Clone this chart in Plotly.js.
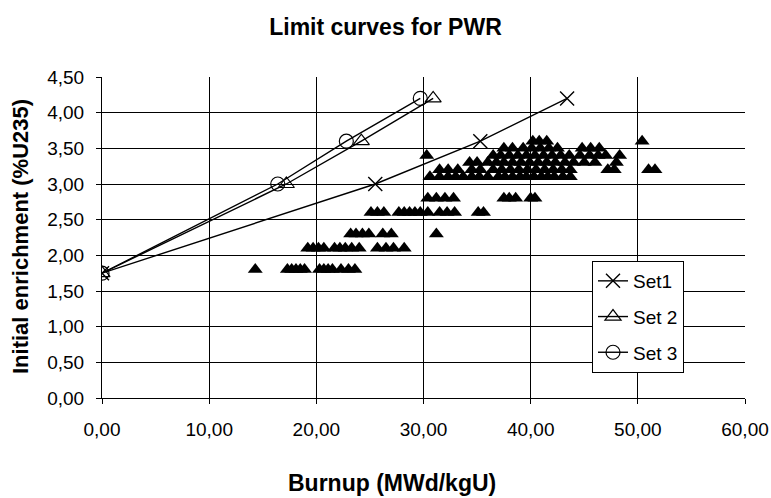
<!DOCTYPE html>
<html>
<head>
<meta charset="utf-8">
<script src="https://cdn.plot.ly/plotly-3.0.1.min.js"></script>
<style>html,body{margin:0;padding:0;background:#fff;}#chart{width:771px;height:498px;}</style>
</head>
<body>
<div id="chart"></div>
<script>
// Limit curves
const set1Burnup = [0, 25.5, 35.3, 43.4];
const set1Enrich = [1.75, 3.0, 3.6, 4.2];
const set2Burnup = [0, 17.2, 24.2, 30.9];
const set2Enrich = [1.75, 3.0, 3.6, 4.2];
const set3Burnup = [0, 16.4, 22.8, 29.7];
const set3Enrich = [1.75, 3.0, 3.6, 4.2];

// Fuel assemblies (filled triangles), grouped by enrichment level
const fuelBurnup180 = [14.3, 17.3, 17.7, 18.1, 18.5, 18.9, 20.3, 20.7, 21.1, 21.5, 22.3, 23.0, 23.6];
const fuelBurnup210 = [19.2, 19.7, 20.2, 20.7, 21.7, 22.2, 22.7, 23.3, 24.0, 25.7, 26.5, 27.2, 28.2];
const fuelBurnup230 = [23.2, 23.7, 24.3, 24.9, 26.2, 27.0, 31.2];
const fuelBurnup260 = [25.1, 25.7, 26.3, 27.7, 28.2, 28.7, 29.2, 29.7, 30.4, 31.5, 32.2, 32.9, 35.1, 35.6];
const fuelBurnup280 = [30.4, 31.2, 32.0, 32.8, 37.5, 38.0, 38.6, 40.0, 40.4];
const fuelBurnup310 = [30.6, 31.5, 32.3, 33.0, 33.7, 34.5, 35.2, 36.0, 37.0, 37.6, 38.3, 39.0, 39.6, 40.3, 41.0, 41.6, 42.2, 43.0, 43.7];
const fuelBurnup320 = [31.5, 32.3, 33.2, 34.5, 35.3, 36.5, 37.3, 38.1, 38.9, 39.7, 40.5, 41.3, 42.1, 42.9, 43.7, 47.2, 47.8, 51.0, 51.6];
const fuelBurnup330 = [34.3, 35.0, 36.0, 36.8, 37.5, 38.3, 39.1, 39.9, 40.7, 41.5, 42.3, 43.2, 44.0, 45.0, 46.0, 48.0];
const fuelBurnup340 = [30.3, 36.5, 37.2, 38.0, 38.8, 39.6, 40.4, 41.2, 42.0, 42.8, 43.6, 44.6, 45.5, 46.3, 47.0, 48.3];
const fuelBurnup350 = [37.5, 38.3, 39.3, 40.1, 40.9, 41.7, 42.5, 44.8, 45.6, 46.4];
const fuelBurnup360 = [40.2, 40.8, 41.5, 50.4];
const fuelLevels = [1.8, 2.1, 2.3, 2.6, 2.8, 3.1, 3.2, 3.3, 3.4, 3.5, 3.6];

const xTicks = [0, 10, 20, 30, 40, 50, 60];
const yTicks = [0, 0.5, 1, 1.5, 2, 2.5, 3, 3.5, 4, 4.5];

const groups = [fuelBurnup180, fuelBurnup210, fuelBurnup230, fuelBurnup260, fuelBurnup280,
  fuelBurnup310, fuelBurnup320, fuelBurnup330, fuelBurnup340, fuelBurnup350, fuelBurnup360];
const fuelX = [], fuelY = [];
groups.forEach((g, i) => g.forEach(b => { fuelX.push(b); fuelY.push(fuelLevels[i]); }));

const FONT = 'Liberation Sans, Arial, sans-serif';
const lineStyle = {color: '#000', width: 1.4};

const traces = [
  {x: fuelX, y: fuelY, mode: 'markers', type: 'scatter', showlegend: false, hoverinfo: 'x+y',
   marker: {symbol: 'triangle-up', size: 13, color: '#000'}},
  {x: set1Burnup, y: set1Enrich, mode: 'lines+markers', type: 'scatter', name: 'Set1', legendgroup: 'a',
   line: lineStyle, marker: {symbol: 'x-thin-open', size: 14, color: '#000', line: {color: '#000', width: 1.4}}},
  {x: set2Burnup, y: set2Enrich, mode: 'lines+markers', type: 'scatter', name: 'Set 2', legendgroup: 'b',
   line: lineStyle, marker: {symbol: 'triangle-up-open', size: 14, color: '#000', line: {color: '#000', width: 1.2}}},
  {x: set3Burnup, y: set3Enrich, mode: 'lines+markers', type: 'scatter', name: 'Set 3', legendgroup: 'c',
   line: lineStyle, marker: {symbol: 'circle-open', size: 14, color: '#000', line: {color: '#000', width: 1.2}}}
];

const layout = {
  width: 771, height: 498,
  margin: {l: 102, r: 26, t: 77, b: 100},
  paper_bgcolor: '#fff', plot_bgcolor: '#fff',
  separators: ', ',
  font: {family: FONT, size: 19, color: '#000'},
  title: {text: '<b>Limit curves for PWR</b>', font: {family: FONT, size: 23, color: '#000'},
          xref: 'container', x: 0.5, xanchor: 'center', yref: 'container', y: 1 - 27/498, yanchor: 'middle'},
  xaxis: {range: [0, 60], tickvals: xTicks, tickformat: '.2f', showgrid: true, gridcolor: '#000', gridwidth: 1,
          zeroline: false, showline: true, linecolor: '#000', linewidth: 1, mirror: false,
          ticks: 'outside', ticklen: 5, tickcolor: '#000', tickfont: {family: FONT, size: 19},
          ticklabelstandoff: 9, title: {text: ''}},
  yaxis: {range: [0, 4.5], tickvals: yTicks, tickformat: '.2f', showgrid: true, gridcolor: '#000', gridwidth: 1,
          zeroline: false, showline: true, linecolor: '#000', linewidth: 1,
          ticks: 'outside', ticklen: 5, tickcolor: '#000', tickfont: {family: FONT, size: 19},
          ticklabelstandoff: 8, title: {text: ''}},
  legend: {x: (592 - 102) / 643, y: (398 - 261) / 321, xanchor: 'left', yanchor: 'top', bgcolor: '#fff',
           bordercolor: '#000', borderwidth: 1, font: {family: FONT, size: 19}, tracegroupgap: 8, itemwidth: 30},
  annotations: [
    {text: '<b>Burnup (MWd/kgU)</b>', xref: 'paper', yref: 'paper', x: (392 - 102) / 643, y: -(483 - 398) / 321,
     xanchor: 'center', yanchor: 'middle', showarrow: false, font: {family: FONT, size: 23, color: '#000'}},
    {text: '<b>Initial enrichment (%U235)</b>', xref: 'paper', yref: 'paper', x: -(102 - 20) / 643, y: (398 - 236) / 321,
     xanchor: 'center', yanchor: 'middle', textangle: -90, showarrow: false, font: {family: FONT, size: 22, color: '#000'}}
  ]
};

Plotly.newPlot('chart', traces, layout, {displayModeBar: false, staticPlot: true});
</script>
</body>
</html>
